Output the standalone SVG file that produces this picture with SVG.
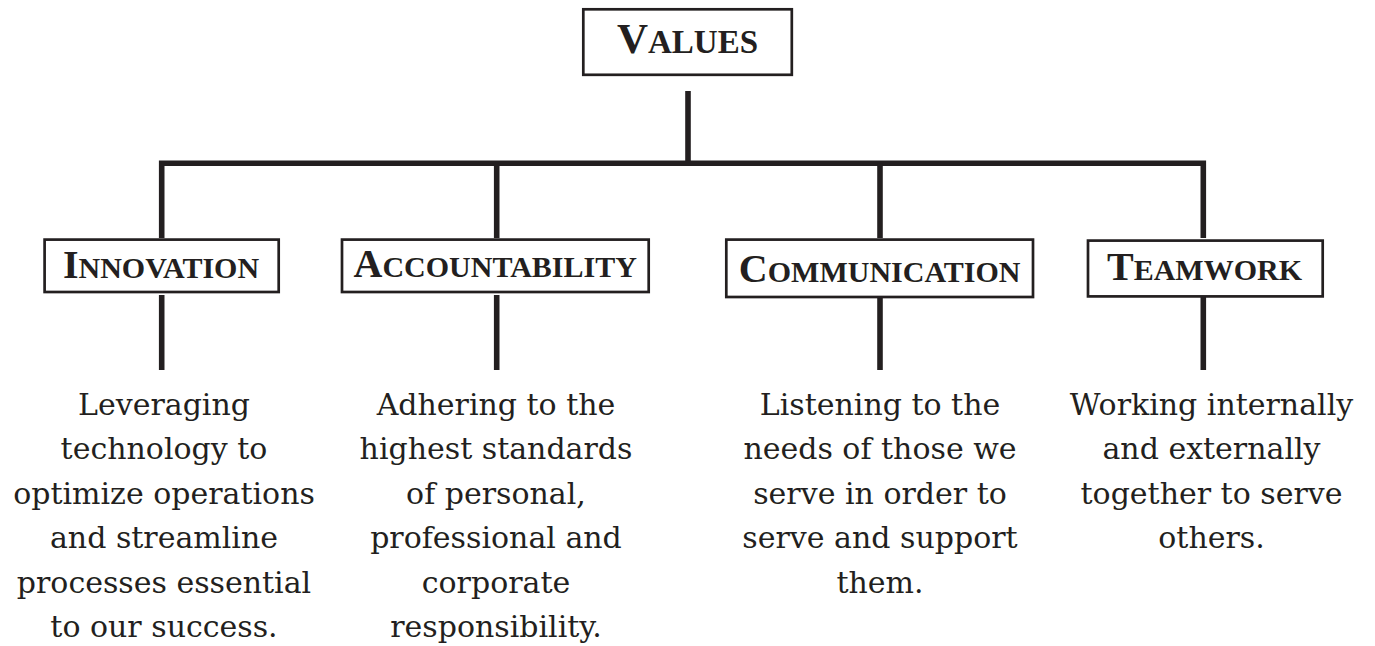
<svg xmlns="http://www.w3.org/2000/svg" width="1375" height="646" viewBox="0 0 1375 646">
<style>
.box{fill:#fff;stroke:#231f20;stroke-width:2.7}
.head{font-family:"Liberation Serif","Times New Roman",serif;font-weight:bold;fill:#231f20;text-anchor:middle}
.big{font-size:40px}
.sc{font-size:30px}
.desc{font-family:"DejaVu Serif",serif;font-size:30px;fill:#231f20;text-anchor:middle}
.conn{fill:none;stroke:#231f20;stroke-width:5.6;stroke-linecap:butt;stroke-linejoin:miter}
</style>
<rect width="1375" height="646" fill="#fff"/>
<g id="connectors">
<line class="conn" x1="688" y1="91" x2="688" y2="163"/>
<path class="conn" d="M161.7,238 V163.3 H1203.3 V238"/>
<line class="conn" x1="496.7" y1="163.3" x2="496.7" y2="238"/>
<line class="conn" x1="880" y1="163.3" x2="880" y2="238"/>
<line class="conn" x1="161.7" y1="295" x2="161.7" y2="370"/>
<line class="conn" x1="496.7" y1="295" x2="496.7" y2="370"/>
<line class="conn" x1="880" y1="295" x2="880" y2="370"/>
<line class="conn" x1="1203.3" y1="295" x2="1203.3" y2="370"/>
</g>
<g id="values">
<rect class="box" x="583.3" y="9.3" width="208.5" height="65.5"/>
<text class="head" x="687.5" y="53.3"><tspan font-size="43">V</tspan><tspan font-size="33">ALUES</tspan></text>
</g>
<g id="innovation">
<rect class="box" x="44.6" y="239.6" width="234.1" height="52.4"/>
<text class="head" x="161" y="278.3"><tspan class="big">I</tspan><tspan class="sc">NNOVATION</tspan></text>
</g>
<g id="accountability">
<rect class="box" x="342" y="239.6" width="306.7" height="52.4"/>
<text class="head" x="495.2" y="276.7"><tspan class="big">A</tspan><tspan class="sc">CCOUNTABILITY</tspan></text>
</g>
<g id="communication">
<rect class="box" x="726.3" y="239.6" width="306.7" height="57.4"/>
<text class="head" x="879.7" y="281.7"><tspan class="big">C</tspan><tspan class="sc">OMMUNICATION</tspan></text>
</g>
<g id="teamwork">
<rect class="box" x="1088" y="240.6" width="234.7" height="55.8"/>
<text class="head" x="1204.5" y="280"><tspan class="big">T</tspan><tspan class="sc">EAMWORK</tspan></text>
</g>
<g id="innovation-desc">
<text class="desc" x="164" y="415"><tspan x="164" y="415">Leveraging</tspan><tspan x="164" y="459.4">technology to</tspan><tspan x="164" y="503.8">optimize operations</tspan><tspan x="164" y="548.2">and streamline</tspan><tspan x="164" y="592.6">processes essential</tspan><tspan x="164" y="637">to our success.</tspan></text>
</g>
<g id="accountability-desc">
<text class="desc" x="496" y="415"><tspan x="496" y="415">Adhering to the</tspan><tspan x="496" y="459.4">highest standards</tspan><tspan x="496" y="503.8">of personal,</tspan><tspan x="496" y="548.2">professional and</tspan><tspan x="496" y="592.6">corporate</tspan><tspan x="496" y="637">responsibility.</tspan></text>
</g>
<g id="communication-desc">
<text class="desc" x="880" y="415"><tspan x="880" y="415">Listening to the</tspan><tspan x="880" y="459.4">needs of those we</tspan><tspan x="880" y="503.8">serve in order to</tspan><tspan x="880" y="548.2">serve and support</tspan><tspan x="880" y="592.6">them.</tspan></text>
</g>
<g id="teamwork-desc">
<text class="desc" x="1211.5" y="415"><tspan x="1211.5" y="415">Working internally</tspan><tspan x="1211.5" y="459.4">and externally</tspan><tspan x="1211.5" y="503.8">together to serve</tspan><tspan x="1211.5" y="548.2">others.</tspan></text>
</g>
</svg>
